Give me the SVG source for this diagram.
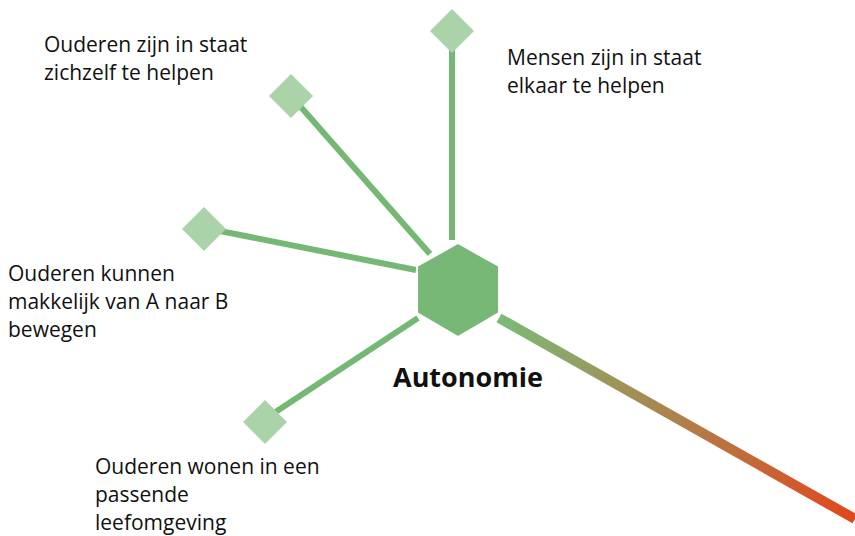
<svg xmlns="http://www.w3.org/2000/svg" width="855" height="536" viewBox="0 0 855 536">
<defs>
<linearGradient id="g" gradientUnits="userSpaceOnUse" x1="499" y1="318" x2="855" y2="519">
<stop offset="0" stop-color="#7bba78"/>
<stop offset="1" stop-color="#e2471d"/>
</linearGradient>
</defs>
<style>
.lbl{font-family:"Open Sans",Lato,sans-serif;font-size:21px;fill:#111}
.ttl{font-family:"Open Sans",Lato,sans-serif;font-size:27px;font-weight:bold;fill:#111}
.dia{fill:#abd3aa}
.ln{stroke:#75b873;stroke-width:6;fill:none}
</style>
<g id="connectors">
<line class="ln" x1="452" y1="45" x2="452" y2="240"/>
<line class="ln" x1="300" y1="106" x2="430" y2="254"/>
<line class="ln" x1="220" y1="231" x2="416" y2="270"/>
<line class="ln" x1="274" y1="413" x2="418" y2="318"/>
<line x1="499" y1="318" x2="855" y2="519" stroke="url(#g)" stroke-width="10"/>
</g>
<g id="hub">
<polygon points="458,243 499,266 499,313 458,337 417,313 417,266" fill="#78b877" stroke="#fff" stroke-width="2"/>
<text class="ttl" x="393" y="387">Autonomie</text>
</g>
<g id="n1">
<polygon class="dia" points="452,9 474,31 452,53 430,31"/>
<text class="lbl" x="507" y="65">Mensen zijn in staat</text>
<text class="lbl" x="507" y="93">elkaar te helpen</text>
</g>
<g id="n2">
<polygon class="dia" points="291,74 313,96 291,118 269,96"/>
<text class="lbl" x="44" y="52">Ouderen zijn in staat</text>
<text class="lbl" x="44" y="80">zichzelf te helpen</text>
</g>
<g id="n3">
<polygon class="dia" points="204,207 226,229 204,251 182,229"/>
<text class="lbl" x="8" y="281">Ouderen kunnen</text>
<text class="lbl" x="8" y="309">makkelijk van A naar B</text>
<text class="lbl" x="8" y="337">bewegen</text>
</g>
<g id="n4">
<polygon class="dia" points="265,400 287,422 265,444 243,422"/>
<text class="lbl" x="95" y="474">Ouderen wonen in een</text>
<text class="lbl" x="95" y="502">passende</text>
<text class="lbl" x="95" y="530">leefomgeving</text>
</g>
</svg>
